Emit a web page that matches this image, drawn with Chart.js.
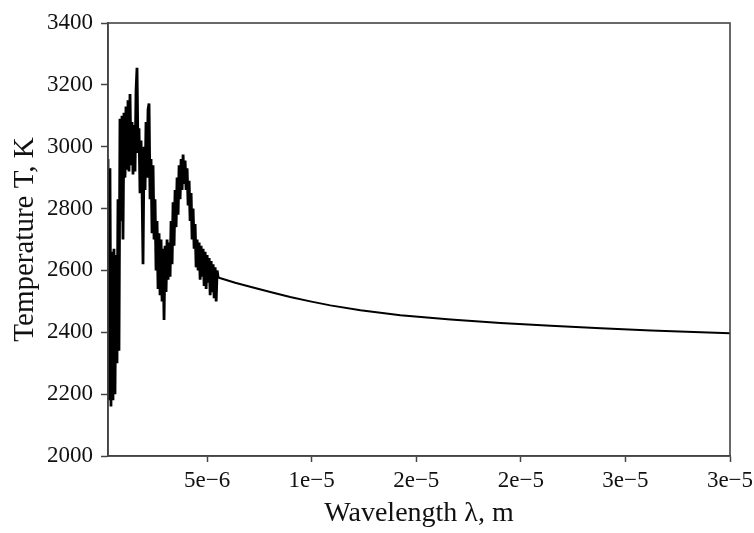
<!DOCTYPE html>
<html>
<head>
<meta charset="utf-8">
<script src="https://cdn.jsdelivr.net/npm/chart.js@4.4.1/dist/chart.umd.min.js"></script>
<style>
  body { margin: 0; background: #fff; }
  canvas { display: block; }
</style>
</head>
<body>
<canvas id="tempChart" width="754" height="533"></canvas>
<script>
// wavelength in micrometres (converted to metres for the axis)
const wavelengthUm = [
  0.259, 0.306, 0.354, 0.402, 0.450, 0.498, 0.546, 0.594, 0.642, 0.690,
  0.738, 0.785, 0.833, 0.881, 0.929, 0.977, 1.025, 1.073, 1.121, 1.169,
  1.216, 1.264, 1.312, 1.360, 1.408, 1.456, 1.504, 1.552, 1.600, 1.647,
  1.695, 1.743, 1.791, 1.839, 1.887, 1.935, 1.983, 2.031, 2.078, 2.126,
  2.174, 2.222, 2.270, 2.318, 2.366, 2.414, 2.462, 2.509, 2.557, 2.605,
  2.653, 2.701, 2.749, 2.797, 2.845, 2.893, 2.940, 2.988, 3.036, 3.084,
  3.132, 3.180, 3.228, 3.276, 3.324, 3.371, 3.419, 3.467, 3.515, 3.563,
  3.611, 3.659, 3.707, 3.755, 3.802, 3.850, 3.898, 3.946, 3.994, 4.042,
  4.090, 4.138, 4.186, 4.233, 4.281, 4.329, 4.377, 4.425, 4.473, 4.521,
  4.569, 4.617, 4.665, 4.712, 4.760, 4.808, 4.856, 4.904, 4.952, 5.000,
  5.048, 5.096, 5.144, 5.191, 5.239, 5.287, 5.335, 5.383, 5.431, 5.479,
  5.526, 6.34, 7.06, 8.02, 8.97, 9.93, 10.89, 12.33, 14.24, 16.64,
  19.03, 21.43, 23.82, 26.22, 28.61, 30.0
];

const temperatureK = [
  2960, 2180, 2930, 2160, 2660, 2180, 2670, 2200, 2650, 2300,
  2830, 2340, 3090, 2760, 3100, 2700, 3110, 2900, 3130, 2930,
  3150, 2920, 3170, 2940, 3080, 2910, 3070, 2920, 3180, 3255,
  2980, 3060, 2850, 3020, 2870, 2620, 3000, 2860, 3080, 2900,
  3120, 3140, 2830, 2960, 2720, 2940, 2700, 2830, 2600, 2760,
  2540, 2720, 2520, 2700, 2500, 2670, 2440, 2680, 2530, 2700,
  2570, 2690, 2580, 2760, 2620, 2820, 2680, 2860, 2740, 2900,
  2780, 2940, 2830, 2960, 2860, 2975, 2880, 2955, 2860, 2930,
  2810, 2890, 2760, 2850, 2700, 2800, 2670, 2750, 2610, 2700,
  2600, 2690, 2570, 2680, 2580, 2670, 2550, 2660, 2540, 2650,
  2560, 2640, 2520, 2630, 2530, 2620, 2510, 2610, 2500, 2600,
  2577, 2560, 2547, 2530, 2514, 2500, 2487, 2471, 2455, 2441,
  2430, 2421, 2413, 2406, 2400, 2397
];

const xTickValues = [5e-6, 1e-5, 1.5e-5, 2e-5, 2.5e-5, 3e-5];
const xTickLabels = ['5e\u22126', '1e\u22125', '2e\u22125', '2e\u22125', '3e\u22125', '3e\u22125'];

const points = wavelengthUm.map((w, i) => ({ x: w * 1e-6, y: temperatureK[i] }));

const serif = 'Liberation Serif, Times New Roman, serif';

// draws the box round the plot area
const frame = {
  id: 'frame',
  afterDraw(chart) {
    const a = chart.chartArea;
    const c = chart.ctx;
    c.save();
    c.strokeStyle = '#444';
    c.lineWidth = 1.6;
    c.strokeRect(a.left, a.top, a.right - a.left, a.bottom - a.top);
    c.restore();
  }
};

const ctx = document.getElementById('tempChart').getContext('2d');
const tempChart = new Chart(ctx, {
  type: 'scatter',
  data: {
    datasets: [{
      data: points,
      showLine: true,
      borderColor: '#000',
      borderWidth: 2,
      pointRadius: 0,
      tension: 0,
      // noisy short-wave part is drawn a bit heavier, like the original
      segment: {
        borderWidth: (s) => (s.p0.parsed.x < 5.5e-6 ? 2.8 : 2)
      }
    }]
  },
  options: {
    responsive: false,
    animation: false,
    layout: { padding: { top: 23, right: 24, left: 0, bottom: 0 } },
    plugins: { legend: { display: false }, tooltip: { enabled: false } },
    scales: {
      x: {
        type: 'linear',
        min: 0.26e-6,
        max: 3e-5,
        afterBuildTicks: (scale) => { scale.ticks = xTickValues.map(v => ({ value: v })); },
        afterFit: (scale) => {
          scale.height = 77;
          scale.paddingRight = 0;
          scale.paddingLeft = 0;
        },
        ticks: {
          autoSkip: false,
          maxRotation: 0,
          padding: 5,
          color: '#111',
          font: { family: serif, size: 23 },
          callback: (v, i) => xTickLabels[i]
        },
        grid: { drawOnChartArea: false, tickLength: 6, tickColor: '#444', tickWidth: 1.5 },
        border: { color: '#444', width: 1.6 },
        title: {
          display: true,
          text: 'Wavelength \u03bb, m',
          color: '#111',
          font: { family: serif, size: 28 },
          padding: { top: 0, bottom: 3 }
        }
      },
      y: {
        min: 2000,
        max: 3400,
        afterFit: (scale) => { scale.width = 108; },
        ticks: {
          stepSize: 200,
          padding: 8,
          color: '#111',
          font: { family: serif, size: 23 },
          callback: (v) => String(v)
        },
        grid: { drawOnChartArea: false, tickLength: 7, tickColor: '#444', tickWidth: 1.5 },
        border: { color: '#444', width: 1.6 },
        title: {
          display: true,
          text: 'Temperature T, K',
          color: '#111',
          font: { family: serif, size: 29 },
          padding: { top: 8, bottom: 0 }
        }
      }
    }
  },
  plugins: [frame]
});
</script>
</body>
</html>
